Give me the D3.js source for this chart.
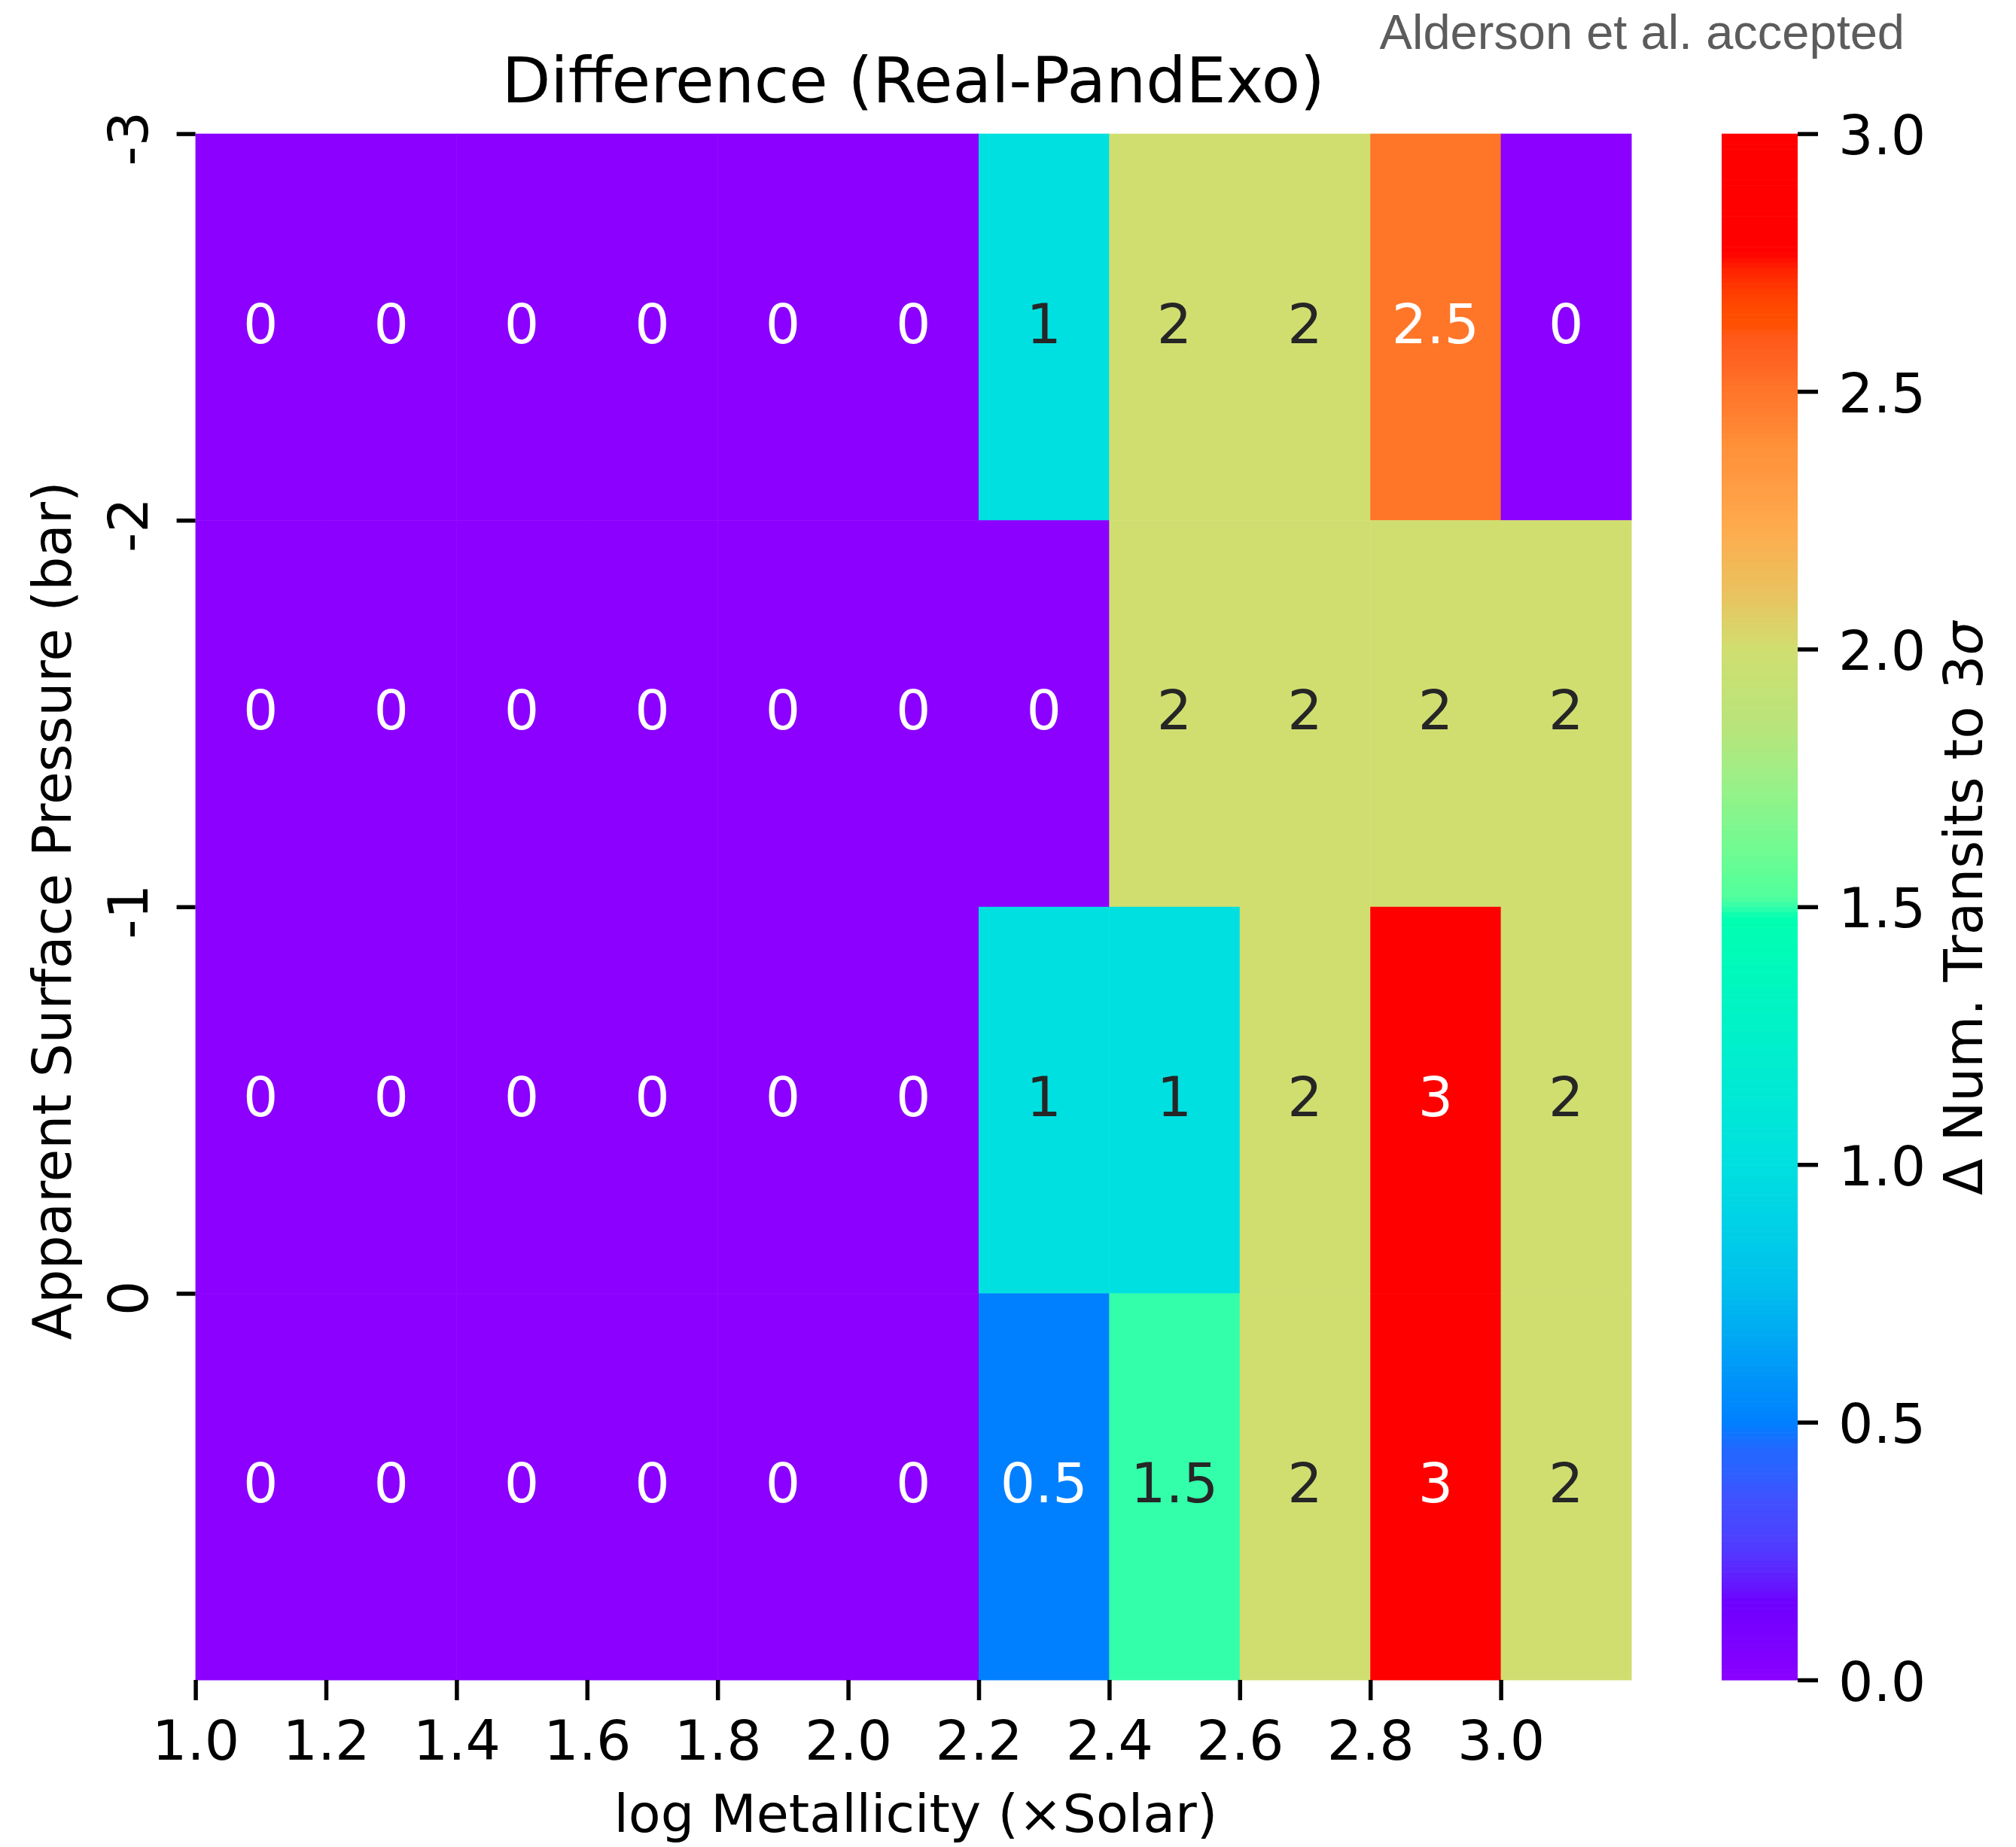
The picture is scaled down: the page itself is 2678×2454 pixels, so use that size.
<!DOCTYPE html>
<html>
<head>
<meta charset="utf-8">
<script src="https://cdn.jsdelivr.net/npm/d3@7"></script>
<style>
  body { margin: 0; background: #ffffff; }
  text { font-family: "DejaVu Sans", sans-serif; }
</style>
</head>
<body>
<script>
'use strict';

// column left edges (log metallicity) and row top edges (log pressure)
const metallicity = [1.0, 1.2, 1.4, 1.6, 1.8, 2.0, 2.2, 2.4, 2.6, 2.8, 3.0];
const pressure = [-3, -2, -1, 0];

// one list per row, top to bottom
const rowM3 = [0, 0, 0, 0, 0, 0, 1, 2, 2, 2.5, 0];
const rowM2 = [0, 0, 0, 0, 0, 0, 0, 2, 2, 2, 2];
const rowM1 = [0, 0, 0, 0, 0, 0, 1, 1, 2, 3, 2];
const row0 = [0, 0, 0, 0, 0, 0, 0.5, 1.5, 2, 3, 2];

const colorbarTicks = [0, 0.5, 1.0, 1.5, 2.0, 2.5, 3.0];

// rainbow colormap as it appears in the picture
const cmapStops = [0, 0.05, 0.10, 0.15, 0.18, 0.20, 0.25, 0.30, 0.35, 0.40, 0.45, 0.50,
  0.60, 0.75, 0.85, 1.00, 1.15, 1.30, 1.48, 1.50, 1.52, 1.60, 1.75, 1.85, 2.00,
  2.10, 2.24, 2.34, 2.40, 2.45, 2.50, 2.57, 2.61, 2.63, 2.67, 2.70, 2.74, 2.77, 3.00];
const cmapColors = ['#8b00ff', '#8000ff', '#7800ff', '#6e00ff', '#6614ff', '#6020ff',
  '#5238ff', '#4848ff', '#4050ff', '#2e60ff', '#2268ff', '#0080ff',
  '#0098f8', '#00bcee', '#00cce8', '#00e0e0', '#00ead4', '#00f4c4', '#00ffb0',
  '#33ffaa', '#50ff9c', '#6cfc92', '#9cf087', '#b8e47a', '#d0de70',
  '#e8c460', '#ffaa4c', '#ff9840', '#ff9038', '#ff8030', '#ff7629', '#ff6020',
  '#ff5818', '#ff5000', '#ff4800', '#ff3800', '#ff2000', '#ff0000', '#ff0000'];

(function() {

  const msm = {
    width: 2678,
    height: 2454,
    left: 259.6,
    right: 2167,
    top: 177.6,
    bottom: 2232,
    cbLeft: 2287,
    cbRight: 2388
  };

  window.onload = function() {
    let svg = d3.select('body')
      .append('svg')
      .attr('width', msm.width)
      .attr('height', msm.height);

    let rows = [rowM3, rowM2, rowM1, row0];
    let cells = [];
    rows.forEach((r, i) => r.forEach((v, j) => {
      cells.push({ m: metallicity[j], p: pressure[i], v: v });
    }));

    let color = d3.scaleLinear()
      .domain(cmapStops)
      .range(cmapColors)
      .clamp(true);

    // step of 0.2 per column, 1 per row
    let xScale = d3.scaleLinear()
      .domain([1.0, 3.2])
      .range([msm.left, msm.right]);
    let yScale = d3.scaleLinear()
      .domain([-3, 1])
      .range([msm.top, msm.bottom]);

    // cells
    svg.append('g').selectAll('rect')
      .data(cells)
      .enter()
      .append('rect')
        .attr('x', (d) => xScale(d.m))
        .attr('y', (d) => yScale(d.p))
        .attr('width', (d) => xScale(d.m + 0.2) - xScale(d.m) + 0.5)
        .attr('height', (d) => yScale(d.p + 1) - yScale(d.p) + 0.5)
        .attr('fill', (d) => color(d.v));

    // annotations, dark text on light cells like seaborn does
    svg.append('g').selectAll('text')
      .data(cells)
      .enter()
      .append('text')
        .attr('x', (d) => (xScale(d.m) + xScale(d.m + 0.2)) / 2)
        .attr('y', (d) => (yScale(d.p) + yScale(d.p + 1)) / 2)
        .attr('dy', '0.29em')
        .attr('text-anchor', 'middle')
        .style('font-size', '73px')
        .attr('fill', (d) => luminance(color(d.v)) > 0.408 ? '#262626' : '#ffffff')
        .text((d) => d3.format('~g')(d.v));

    // x axis
    let xAxis = d3.axisBottom(xScale)
      .tickValues(metallicity)
      .tickFormat(d3.format('.1f'))
      .tickSize(27)
      .tickPadding(27);
    let gx = svg.append('g')
      .attr('transform', 'translate(0,' + msm.bottom + ')')
      .call(xAxis);
    styleAxis(gx);

    // y axis, labels turned on their side, plain hyphen for minus
    let yAxis = d3.axisLeft(yScale)
      .tickValues(pressure)
      .tickFormat((d) => String(d))
      .tickSize(25);
    let gy = svg.append('g')
      .attr('transform', 'translate(' + msm.left + ',0)')
      .call(yAxis);
    styleAxis(gy);
    gy.selectAll('.tick text')
      .attr('x', null)
      .attr('dy', null)
      .attr('text-anchor', 'middle')
      .attr('transform', 'translate(-63.6,6) rotate(-90)');

    // colorbar
    let cScale = d3.scaleLinear()
      .domain([0, 3])
      .range([msm.bottom, msm.top]);
    let bands = d3.range(0, 3, 3 / 300);
    svg.append('g').selectAll('rect')
      .data(bands)
      .enter()
      .append('rect')
        .attr('x', msm.cbLeft)
        .attr('width', msm.cbRight - msm.cbLeft)
        .attr('y', (d) => cScale(d + 0.01))
        .attr('height', cScale(0) - cScale(0.01) + 0.6)
        .attr('fill', (d) => color(d + 0.005));

    let cAxis = d3.axisRight(cScale)
      .tickValues(colorbarTicks)
      .tickFormat(d3.format('.1f'))
      .tickSize(27)
      .tickPadding(27);
    let gc = svg.append('g')
      .attr('transform', 'translate(' + msm.cbRight + ',0)')
      .call(cAxis);
    styleAxis(gc);
    gc.selectAll('.tick text').attr('dy', '0.37em');

    makeLabels(svg);
  };

  function styleAxis(g) {
    g.select('.domain').remove();
    g.selectAll('.tick line')
      .attr('stroke', '#000000')
      .attr('stroke-width', 5.5);
    g.selectAll('.tick text')
      .attr('fill', '#000000')
      .style('font-family', '"DejaVu Sans", sans-serif')
      .style('font-size', '73px');
  }

  // relative luminance, used to pick the annotation colour
  function luminance(c) {
    let rgb = d3.rgb(c);
    let lin = [rgb.r, rgb.g, rgb.b].map((v) => {
      v = v / 255;
      return v <= 0.03928 ? v / 12.92 : Math.pow((v + 0.055) / 1.055, 2.4);
    });
    return 0.2126 * lin[0] + 0.7152 * lin[1] + 0.0722 * lin[2];
  }

  // title, axis labels and the note at the top
  function makeLabels(svg) {
    svg.append('text')
      .attr('x', (msm.left + msm.right) / 2)
      .attr('y', 136)
      .attr('text-anchor', 'middle')
      .style('font-size', '84px')
      .text('Difference (Real-PandExo)');

    svg.append('text')
      .attr('x', (msm.left + msm.right) / 2 + 3)
      .attr('y', 2434)
      .attr('text-anchor', 'middle')
      .style('font-size', '70px')
      .text('log Metallicity (\u00d7Solar)');

    svg.append('text')
      .attr('transform', 'translate(94,' + ((msm.top + msm.bottom) / 2 + 5) + ') rotate(-90)')
      .attr('text-anchor', 'middle')
      .style('font-size', '71px')
      .text('Apparent Surface Pressure (bar)');

    let cb = svg.append('text')
      .attr('transform', 'translate(2633,' + ((msm.top + msm.bottom) / 2 + 2) + ') rotate(-90)')
      .attr('text-anchor', 'middle')
      .style('font-size', '71px');
    cb.append('tspan').text('\u0394 Num. Transits to 3');
    cb.append('tspan').style('font-style', 'italic').text('\u03c3');

    svg.append('text')
      .attr('x', 2530)
      .attr('y', 65)
      .attr('text-anchor', 'end')
      .attr('fill', '#5c5c5c')
      .style('font-family', '"Liberation Sans", Arial, sans-serif')
      .style('font-size', '65px')
      .text('Alderson et al. accepted');
  }

})();
</script>
</body>
</html>
